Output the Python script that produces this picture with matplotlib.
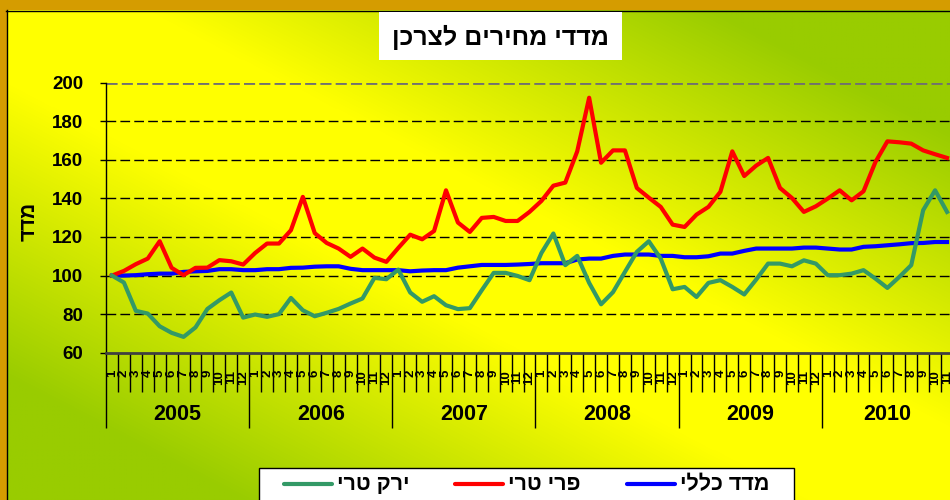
import matplotlib
matplotlib.use('Agg')
import matplotlib.pyplot as plt
from matplotlib.patches import Rectangle
import numpy as np

plt.rcParams['font.family'] = ['Liberation Sans', 'DejaVu Sans']
plt.rcParams['font.weight'] = 'bold'

# data: monthly index, base Jan 2005 = 100
years = [2005, 2006, 2007, 2008, 2009, 2010]
months_per_year = [12, 12, 12, 12, 12, 11]

veg = [100, 96.4, 81.7, 80.3, 73.7, 70.3, 68.2, 73.1, 82.7, 87.2, 91.2, 78.2,
       79.8, 78.6, 80.0, 88.4, 82.0, 78.9, 80.7, 82.7, 85.5, 88.1, 98.8, 98.1,
       103.1, 91.2, 86.4, 89.3, 84.6, 82.6, 83.1, 92.4, 101.4, 101.4, 99.8, 97.6,
       111.7, 121.8, 105.4, 110.2, 96.2, 85.1, 91.4, 101.9, 112.3, 117.8, 108.8, 92.9,
       94.1, 88.9, 96.2, 97.6, 94.1, 90.2, 97.9, 106.2, 106.2, 104.8, 107.9, 106.2,
       100.2, 100.2, 101.0, 102.8, 98.4, 93.6, 99.3, 105.4, 133.9, 144.2, 133.0]

fruit = [100, 102.4, 105.9, 108.8, 117.8, 104.0, 100.2, 104.0, 104.1, 108.0, 107.4, 105.7,
         111.7, 116.6, 116.6, 123.5, 140.8, 122.0, 116.9, 114.0, 109.7, 114.0, 109.3, 107.1,
         114.3, 121.2, 118.8, 123.1, 144.2, 127.5, 122.6, 129.9, 130.4, 128.3, 128.3, 133.0,
         138.7, 146.6, 148.2, 164.4, 192.2, 158.5, 164.9, 164.9, 145.4, 140.4, 135.6, 126.4,
         125.2, 131.6, 135.6, 143.4, 164.4, 151.6, 157.0, 161.0, 145.4, 140.2, 133.0, 135.9,
         139.9, 144.2, 139.0, 143.7, 158.9, 169.6, 169.1, 168.4, 164.9, 162.9, 161.0]

cpi = [100, 100, 100.2, 100.7, 101.0, 101.0, 101.9, 102.2, 102.4, 103.3, 103.3, 102.8,
       102.8, 103.3, 103.3, 104.0, 104.1, 104.6, 104.8, 104.8, 103.5, 102.8, 102.8, 102.8,
       102.8, 102.2, 102.6, 102.8, 102.8, 104.1, 104.8, 105.5, 105.5, 105.5, 105.7, 106.0,
       106.4, 106.4, 106.4, 108.3, 108.8, 108.8, 110.2, 110.9, 110.9, 110.9, 110.2, 110.2,
       109.5, 109.5, 110.0, 111.4, 111.4, 112.8, 114.0, 114.0, 114.0, 114.0, 114.5, 114.5,
       114.0, 113.5, 113.5, 114.9, 115.2, 115.7, 116.2, 116.8, 116.9, 117.4, 117.4]

title = 'מדדי מחירים לצרכן'
ylabel = 'מדד'
names = ['ירק טרי', 'פרי טרי', 'מדד כללי']
colors = ['#339966', '#FF0000', '#0000FF']


def rtl(s):
    # matplotlib has no bidi support, so lay hebrew out visually
    return s[::-1]


W, H = 950, 500
fig = plt.figure(figsize=(W / 100, H / 100), dpi=100)

# background: orange frame + diagonal yellow/green gradient
bg = fig.add_axes([0, 0, 1, 1], zorder=0)
bg.set_xlim(0, W)
bg.set_ylim(H, 0)
bg.axis('off')
bg.add_patch(Rectangle((0, 0), W, H, facecolor='#D59C00', edgecolor='none', zorder=0))
gx, gy = np.meshgrid(np.arange(W), np.arange(H))
u = np.abs(gx / W - gy / H)
t = np.clip((u - 0.15) / 0.6, 0, 1)
yel = np.array([255, 255, 0]) / 255.
grn = np.array([153, 204, 0]) / 255.
img = yel[None, None, :] * (1 - t[..., None]) + grn[None, None, :] * t[..., None]
bg.imshow(img, extent=(6.5, W, H, 10.5), aspect='auto', interpolation='bilinear', zorder=1)
bg.set_xlim(0, W)
bg.set_ylim(H, 0)
bg.plot([6.5, 6.5], [10, H], color='black', lw=1, zorder=2)
bg.plot([6, W], [10.5, 10.5], color='black', lw=1, zorder=2)

# title box
bg.add_patch(Rectangle((379, 12), 243, 48, facecolor='white', edgecolor='none', zorder=2))
bg.text(500.5, 37, rtl(title), ha='center', va='center', fontsize=18, fontweight='bold', zorder=3)

# y label
bg.text(29, 221, rtl(ylabel), ha='center', va='center', rotation=90,
        fontsize=15, fontweight='bold', zorder=3)

# legend drawn by hand (RTL layout in the original)
bg.add_patch(Rectangle((258.5, 467.5), 535, 40, facecolor='white', edgecolor='black', lw=1, zorder=2))
for x0, name, c in zip([284, 455, 627], names, colors):
    bg.plot([x0, x0 + 48], [484, 484], color=c, lw=3, solid_capstyle='round', zorder=3)
    bg.text(x0 + 53, 485, rtl(name), ha='left', va='center', fontsize=15.5,
            fontweight='bold', zorder=3)

# main plot
n = len(veg)
ax = fig.add_axes([106 / W, 1 - 352.7 / H, 847 / W, 270 / H], zorder=1)
ax.set_facecolor('none')
xs = np.arange(n) + 0.5

ax.plot(xs, cpi, color=colors[2], lw=3, zorder=3)
ax.plot(xs, fruit, color=colors[1], lw=3, zorder=4)
ax.plot(xs, veg, color=colors[0], lw=3, zorder=5)

ax.set_xlim(0, n)
ax.set_ylim(60, 200)
ax.set_yticks(np.arange(60, 201, 20))
for v in range(80, 200, 20):
    ax.axhline(v, color='black', lw=1, dashes=(7, 3), zorder=1)
ax.axhline(200, color='#707070', lw=2, dashes=(4, 1.5), zorder=1)

for s in ['top', 'right']:
    ax.spines[s].set_visible(False)
ax.spines['left'].set_color('black')
ax.spines['left'].set_linewidth(1)
ax.spines['bottom'].set_color('#404040')
ax.spines['bottom'].set_linewidth(2)

ax.tick_params(axis='y', direction='out', length=4.5, width=1, color='black',
               labelsize=13.5, pad=12)
for lbl in ax.get_yticklabels():
    lbl.set_fontweight('bold')

# two level category axis: months + years
bounds = np.concatenate([[0], np.cumsum(months_per_year)])
ax.set_xticks(bounds)
ax.set_xticks(np.arange(0, n + 1), minor=True)
ax.tick_params(axis='x', which='major', direction='out', length=54, width=1, color='black',
               labelbottom=False)
ax.tick_params(axis='x', which='minor', direction='out', length=28, width=1, color='black',
               labelbottom=False)

tr = ax.get_xaxis_transform()
k = 0
for yr, m in zip(years, months_per_year):
    for mo in range(1, m + 1):
        ax.text(k + 0.5, -0.064, str(mo), transform=tr, rotation=90, ha='center', va='top',
                fontsize=9.5, fontweight='bold', clip_on=False)
        k += 1
for i, yr in enumerate(years):
    c = (bounds[i] + bounds[i + 1]) / 2
    ax.text(c, -0.228, str(yr), transform=tr, ha='center', va='center',
            fontsize=15.5, fontweight='bold', clip_on=False)

fig.savefig('out.png', dpi=100)
